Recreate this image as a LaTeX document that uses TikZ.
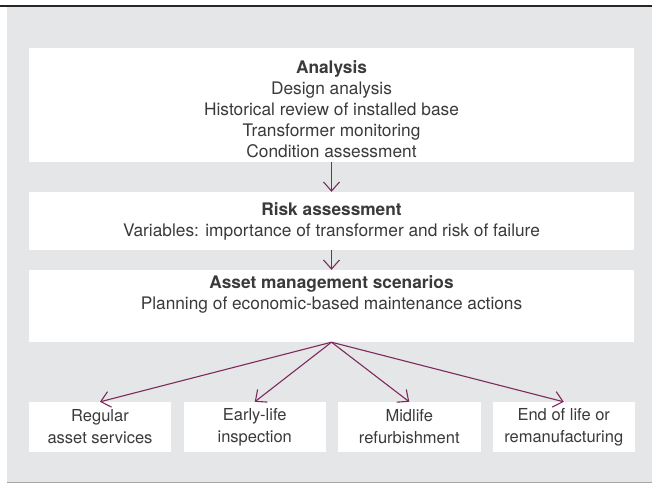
\documentclass[tikz,border=0pt]{standalone}
\usepackage{fontspec}
\setmainfont{TeX Gyre Heros}
\usetikzlibrary{arrows.meta}
\definecolor{panelgray}{HTML}{E5E6E8}
\definecolor{arrowplum}{HTML}{7D2A5C}
\definecolor{textgray}{HTML}{3A3A3A}
\tikzset{
  box/.style={fill=white, minimum width=605pt, inner sep=0pt},
  smallbox/.style={fill=white, minimum width=142.5pt, minimum height=50pt, inner sep=0pt,
    align=center, text=textgray, font=\fontsize{16.5}{22}\selectfont},
  txt/.style={align=center, inner sep=0pt, text=textgray, font=\fontsize{17.3}{21}\selectfont},
  flow/.style={arrowplum, line width=1.1pt, -{Straight Barb[length=9pt,width=16pt]}}
}
\begin{document}
\begin{tikzpicture}[x=1pt,y=-1pt]
\useasboundingbox (0,0) rectangle (652,483);
% Background panel
\fill[panelgray] (7,7) rectangle (652,482);
\draw[line width=1.5pt, black!85] (0,6) -- (652,6);
\draw[line width=0.8pt, black!35] (7,482) -- (652,482);

% Main stages
\node[box, minimum height=114pt] (analysis) at (331.5,105) {};
\node[txt] (analysistxt) at (331.5,109.5) {\textbf{Analysis}\\Design analysis\\Historical review of installed base\\Transformer monitoring\\Condition assessment};

\node[box, minimum height=58pt] (risk) at (331.5,221) {};
\node[txt] (risktxt) at (331.5,221.5) {\textbf{Risk assessment}\\Variables: importance of transformer and risk of failure};

\node[box, minimum height=72pt] (asset) at (331.5,306) {};
\node[txt] (assettxt) at (331.5,294) {\textbf{Asset management scenarios}\\Planning of economic-based maintenance actions};

% Scenario boxes
\foreach \name/\x/\lbl in {regular/100/{Regular\\asset services},
                            earlylife/254.75/{Early-life\\inspection},
                            midlife/409.25/{Midlife\\refurbishment},
                            endoflife/563.75/{End of life or\\remanufacturing}}
  \node[smallbox] (\name) at (\x,427) {\lbl};

% Arrows
\draw[flow] (analysis.south) -- (risk.north);
\draw[flow] (risk.south) -- (asset.north);
\foreach \name in {regular,earlylife,midlife,endoflife}
  \draw[flow] (asset.south) -- (\name.north);

\end{tikzpicture}
\end{document}
